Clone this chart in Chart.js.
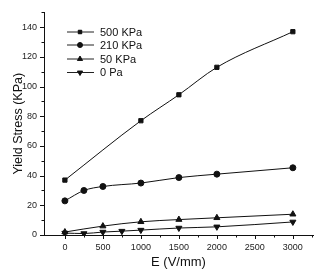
<!DOCTYPE html>
<html>
<head>
<meta charset="utf-8">
<script src="https://cdn.jsdelivr.net/npm/chart.js@4/dist/chart.umd.min.js"></script>
<style>
  html, body { margin: 0; padding: 0; background: #fff; }
  #wrap { position: relative; width: 324px; height: 279px; }
</style>
</head>
<body>
<div id="wrap"><canvas id="c" width="324" height="279"></canvas></div>
<script>
// ---- data ----
const seriesNames = ['500 KPa', '210 KPa', '50 KPa', '0 Pa'];
const x500 = [0, 1000, 1500, 2000, 3000];
const y500 = [37, 77, 94.5, 113, 137];
const x210 = [0, 250, 500, 1000, 1500, 2000, 3000];
const y210 = [23, 30, 32.7, 35, 38.7, 41, 45.3];
const x50 = [0, 500, 1000, 1500, 2000, 3000];
const y50 = [2, 6, 8.9, 10.4, 11.6, 14];
const x0 = [0, 250, 500, 750, 1000, 1500, 2000, 3000];
const y0 = [1.3, 1.0, 2.0, 2.6, 3.3, 4.7, 5.5, 8.8];
const xTicks = [0, 250, 500, 750, 1000, 1250, 1500, 1750, 2000, 2250, 2500, 2750, 3000, 3250];
const xLabelTicks = [0, 500, 1000, 1500, 2000, 2500, 3000];
const yTicks = [0, 10, 20, 30, 40, 50, 60, 70, 80, 90, 100, 110, 120, 130, 140, 150];
const yLabelTicks = [0, 20, 40, 60, 80, 100, 120, 140];

const pts = (xs, ys) => xs.map((x, i) => ({x: x, y: ys[i]}));
const styles = ['rect', 'circle', 'triangle', 'triangle'];
const rots = [0, 0, 0, 180];
const radii = [3, 3, 3.5, 3.5];

const datasets = [
  pts(x500, y500), pts(x210, y210), pts(x50, y50), pts(x0, y0)
].map((d, i) => ({
  label: seriesNames[i],
  data: d,
  showLine: true,
  borderColor: '#111',
  backgroundColor: '#111',
  borderWidth: 1,
  pointStyle: styles[i],
  rotation: rots[i],
  pointRadius: radii[i],
  pointBorderWidth: 1,
  cubicInterpolationMode: 'monotone'
}));

const FONT = 'Liberation Sans, Arial, sans-serif';

const customPlugin = {
  id: 'custom',
  afterDraw(chart) {
    const ctx = chart.ctx;
    const xs = chart.scales.x, ys = chart.scales.y;
    ctx.save();
    ctx.strokeStyle = '#111';
    ctx.lineWidth = 1;
    // ticks
    xTicks.forEach(v => {
      const px = Math.round(xs.getPixelForValue(v)) + 0.5;
      const len = xLabelTicks.includes(v) ? 4 : 2.5;
      ctx.beginPath(); ctx.moveTo(px, ys.bottom); ctx.lineTo(px, ys.bottom + len); ctx.stroke();
    });
    yTicks.forEach(v => {
      const py = Math.round(ys.getPixelForValue(v)) + 0.5;
      const len = yLabelTicks.includes(v) ? 4 : 2.5;
      ctx.beginPath(); ctx.moveTo(xs.left, py); ctx.lineTo(xs.left - len, py); ctx.stroke();
    });
    // legend
    const lx0 = 67, lx1 = 94, mx = 80, tx = 100;
    const rowY = [31.5, 44.5, 58.5, 72];
    ctx.font = '11px ' + FONT;
    ctx.textBaseline = 'middle';
    ctx.textAlign = 'left';
    chart.data.datasets.forEach((ds, i) => {
      const y = rowY[i];
      ctx.strokeStyle = '#222';
      ctx.beginPath(); ctx.moveTo(lx0, y + 0.5); ctx.lineTo(lx1, y + 0.5); ctx.stroke();
      ctx.fillStyle = '#111';
      Chart.helpers.drawPoint(ctx, {pointStyle: ds.pointStyle, rotation: ds.rotation, radius: ds.pointRadius - 0.5, borderWidth: 1}, mx, y + 0.5);
      ctx.fill();
      ctx.fillStyle = '#111';
      ctx.fillText(ds.label, tx, y + 1);
    });
    ctx.restore();
  }
};

new Chart(document.getElementById('c'), {
  type: 'scatter',
  data: { datasets: datasets },
  options: {
    responsive: false,
    animation: false,
    layout: { padding: { left: 0, right: 11, top: 10, bottom: 0 } },
    plugins: { legend: { display: false }, tooltip: { enabled: false } },
    scales: {
      x: {
        type: 'linear',
        min: -275, max: 3265,
        afterBuildTicks: s => { s.ticks = xLabelTicks.map(v => ({value: v})); },
        afterFit: s => { s.height = 44; },
        grid: { display: false, drawTicks: false },
        border: { display: true, color: '#111', width: 1 },
        ticks: { color: '#222', font: { family: FONT, size: 9 }, padding: 7, maxRotation: 0, callback: v => String(v) },
        title: { display: true, text: 'E (V/mm)', color: '#111', font: { family: FONT, size: 13 }, padding: { top: 0, bottom: 9 } }
      },
      y: {
        min: 0, max: 150,
        afterBuildTicks: s => { s.ticks = yLabelTicks.map(v => ({value: v})); },
        afterFit: s => { s.width = 44; },
        grid: { display: false, drawTicks: false },
        border: { display: true, color: '#111', width: 1 },
        ticks: { color: '#222', font: { family: FONT, size: 9 }, padding: 7, callback: v => String(v) },
        title: { display: true, text: 'Yield Stress (KPa)', color: '#111', font: { family: FONT, size: 12.5 }, padding: { top: 11, bottom: 0 } }
      }
    }
  },
  plugins: [customPlugin]
});
</script>
</body>
</html>
